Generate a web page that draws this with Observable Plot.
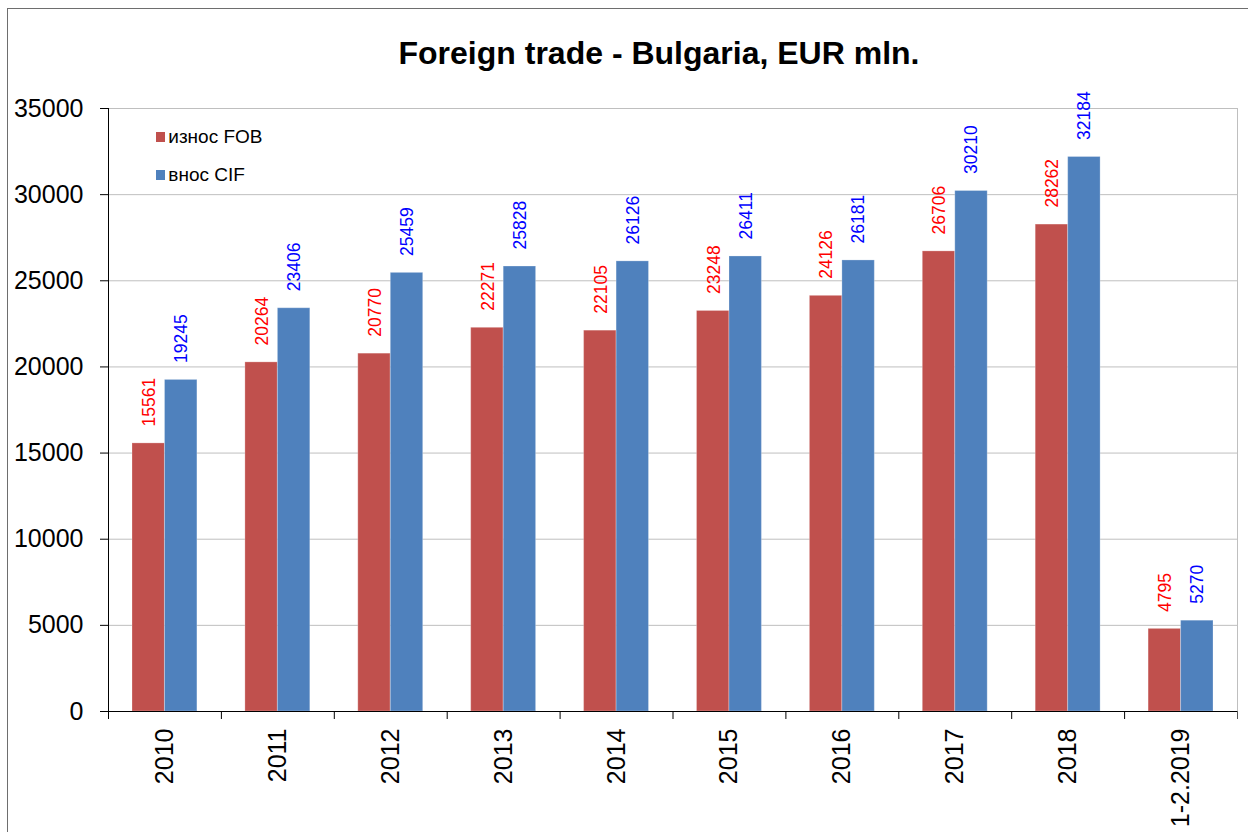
<!DOCTYPE html>
<html>
<head>
<meta charset="utf-8">
<script src="https://cdn.jsdelivr.net/npm/d3@7"></script>
<script src="https://cdn.jsdelivr.net/npm/@observablehq/plot@0.6"></script>
<style>
  html, body { margin: 0; padding: 0; background: #fff; }
  #wrap { position: relative; width: 1248px; height: 832px; overflow: hidden; font-family: "Liberation Sans", Arial, sans-serif; }
  #border { position: absolute; left: 7px; top: 8px; width: 1300px; height: 900px; border-left: 1px solid #6e6e6e; border-top: 1px solid #6e6e6e; }
  #title { position: absolute; left: 0; width: 1318px; top: 37px; text-align: center; font-size: 32px; line-height: 32px; font-weight: bold; color: #000; white-space: nowrap; }
  #chart { position: absolute; left: 0; top: 0; }
  .lg-box { position: absolute; left: 144px; top: 118px; width: 133px; height: 76px; background: #fff; }
  .lg-sw { position: absolute; width: 9.5px; height: 9.5px; }
  .lg-tx { position: absolute; font-size: 19px; line-height: 19px; color: #000; white-space: nowrap; }
</style>
</head>
<body>
<div id="wrap">
  <div id="border"></div>
  <div id="chart"></div>
  <div id="title">Foreign trade - Bulgaria, EUR mln.</div>
  <div class="lg-box"></div>
  <div id="legend"></div>
</div>
<script>
const years = ["2010", "2011", "2012", "2013", "2014", "2015", "2016", "2017", "2018", "1-2.2019"];
const exportsFOB = [15561, 20264, 20770, 22271, 22105, 23248, 24126, 26706, 28262, 4795];
const importsCIF = [19245, 23406, 25459, 25828, 26126, 26411, 26181, 30210, 32184, 5270];
const yTicks = [0, 5000, 10000, 15000, 20000, 25000, 30000, 35000];
const seriesNames = ["износ FOB", "внос CIF"];
const barColors = ["#C0504D", "#4F81BD"];
const labelColors = ["#FF0000", "#0000FF"];

const exportRows = years.map((year, i) => ({year, value: exportsFOB[i]}));
const importRows = years.map((year, i) => ({year, value: importsCIF[i]}));

const W = 1248, H = 832;
const mL = 108, mR = 11, mT = 108, mB = 121;
const bw = (W - mL - mR) / years.length;
const font = "'Liberation Sans', Arial, sans-serif";

const chart = Plot.plot({
  width: W,
  height: H,
  marginLeft: mL,
  marginRight: mR,
  marginTop: mT,
  marginBottom: mB,
  style: {fontFamily: font, background: "transparent", overflow: "visible"},
  x: {type: "band", domain: years, padding: 0, round: false, axis: null},
  y: {domain: [0, 35000], axis: null},
  marks: [
    Plot.gridY(yTicks, {stroke: "#bfbfbf", strokeOpacity: 1}),
    Plot.frame({stroke: "#bfbfbf"}),
    Plot.barY(exportRows, {x: "year", y: "value", fill: barColors[0], insetLeft: 24, insetRight: 56.5, stroke: "#ffffff", strokeOpacity: 0.25, strokeWidth: 1}),
    Plot.barY(importRows, {x: "year", y: "value", fill: barColors[1], insetLeft: 56.5, insetRight: 24, stroke: "#ffffff", strokeOpacity: 0.25, strokeWidth: 1}),
    Plot.text(exportRows, {x: "year", y: "value", text: d => String(d.value), rotate: -90, textAnchor: "start", lineAnchor: "middle", dx: -15.5, dy: -17, fill: labelColors[0], fontSize: 17.5}),
    Plot.text(importRows, {x: "year", y: "value", text: d => String(d.value), rotate: -90, textAnchor: "start", lineAnchor: "middle", dx: 16.5, dy: -17, fill: labelColors[1], fontSize: 17.5}),
    Plot.ruleY([0], {stroke: "#000"}),
    Plot.ruleX([years[0]], {dx: -bw / 2, stroke: "#000"}),
    Plot.ruleX(years, {x: d => d, y1: 0, y2: 0, insetBottom: -8, dx: -bw / 2, stroke: "#000"}),
    Plot.ruleX([years[years.length - 1]], {x: d => d, y1: 0, y2: 0, insetBottom: -8, dx: bw / 2, stroke: "#555"}),
    Plot.axisY(yTicks, {tickSize: 8, tickPadding: 17, fontSize: 25, label: null, tickFormat: d => String(d), fill: "#000", stroke: "#000"}),
    Plot.axisX({tickSize: 0, tickRotate: -90, tickPadding: 17, fontSize: 25, label: null, fill: "#000"})
  ]
});
document.getElementById("chart").appendChild(chart);

const legend = document.getElementById("legend");
const legendTops = [132.3, 170];
seriesNames.forEach((name, i) => {
  const sw = document.createElement("div");
  sw.className = "lg-sw";
  sw.style.left = "155.7px";
  sw.style.top = legendTops[i] + "px";
  sw.style.background = barColors[i];
  legend.appendChild(sw);
  const tx = document.createElement("div");
  tx.className = "lg-tx";
  tx.style.left = "168.3px";
  tx.style.top = (legendTops[i] - 5) + "px";
  tx.textContent = name;
  legend.appendChild(tx);
});
</script>
</body>
</html>
